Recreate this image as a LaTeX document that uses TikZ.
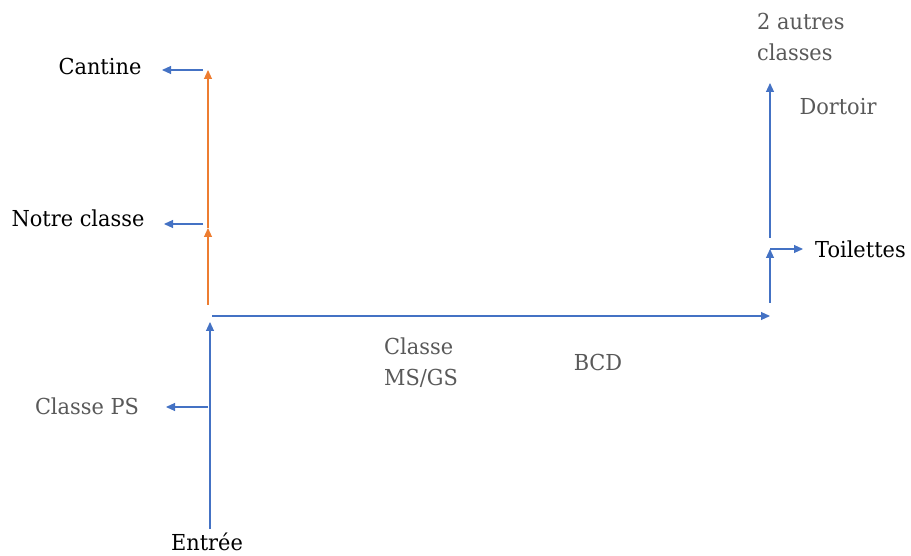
\documentclass[tikz,border=0pt]{standalone}
\usepackage{fontspec}
\setmainfont{DejaVu Serif}[FakeStretch=0.95]
\usetikzlibrary{arrows.meta,positioning}
\definecolor{linkblue}{HTML}{4472C4}
\definecolor{walkorange}{HTML}{ED7D31}
\definecolor{labelgray}{HTML}{595959}
\begin{document}
\begin{tikzpicture}[x=1pt, y=-1pt,
  room/.style={font=\fontsize{22}{31}\selectfont, inner sep=0pt},
  dim room/.style={room, text=labelgray},
  link/.style={linkblue, line width=1.1pt, -{Triangle[length=9pt,width=8pt]}},
  walk/.style={walkorange, line width=1.1pt, -{Triangle[length=9pt,width=8pt]}}]
\useasboundingbox (0,0) rectangle (911,556);
\begin{scope}
\node[room] (cantine) at (100,66) {Cantine};
\node[room] (notre) at (78,218) {Notre classe};
\node[dim room] (ps) at (87,406) {Classe PS};
\node[room] (entree) at (207,542) {Entrée};
\node[dim room, align=left, anchor=west] (msgs) at (384,363) {Classe\\MS/GS};
\node[dim room] (bcd) at (598,362) {BCD};
\node[room, anchor=west] (toilettes) at (815,249) {Toilettes};
\node[dim room] (dortoir) at (838,107) {Dortoir};
\node[dim room, align=left, anchor=west] (autres) at (757,37) {2 autres\\classes};
\end{scope}
\coordinate (door) at (210,529);
\coordinate (hall) at (210,322);
\coordinate (psfork) at (208,407);
\coordinate (pstip) at (166,407);
\coordinate (o0) at (208,305);
\coordinate (o1) at (208,228);
\coordinate (o2) at (208,70);
\coordinate (notrefork) at (203,224);
\coordinate (notretip) at (164,224);
\coordinate (cantinefork) at (203,70);
\coordinate (cantinetip) at (162,70);
\coordinate (c0) at (212,316);
\coordinate (c1) at (770,316);
\coordinate (r0) at (770,303);
\coordinate (r1) at (770,249);
\coordinate (rtip) at (803,249);
\coordinate (r2) at (770,238);
\coordinate (r3) at (770,83);
\begin{scope}
\draw[link] (door) -- (hall);
\draw[link] (psfork) -- (pstip);
\draw[walk] (o0) -- (o1);
\draw[walk] (o1) -- (o2);
\draw[link] (notrefork) -- (notretip);
\draw[link] (cantinefork) -- (cantinetip);
\draw[link] (c0) -- (c1);
\draw[link] (r0) -- (r1);
\draw[link] (r1) -- (rtip);
\draw[link] (r2) -- (r3);
\end{scope}
\end{tikzpicture}
\end{document}
